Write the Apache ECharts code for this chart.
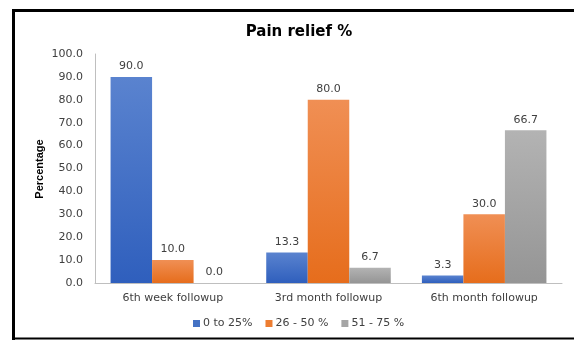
<!DOCTYPE html>
<html>
<head>
<meta charset="utf-8">
<script src="https://cdn.jsdelivr.net/npm/echarts@6/dist/echarts.min.js"></script>
<style>
  html, body { margin: 0; padding: 0; background: #fff; }
  #chart { width: 574px; height: 340px; }
</style>
</head>
<body>
<div id="chart"></div>
<script>
// Follow-up time points and the share of patients in each pain-relief band
const categories = ['6th week followup', '3rd month followup', '6th month followup'];
const seriesNames = ['0 to 25%', '26 - 50 %', '51 - 75 %'];
const band0to25 = [90.0, 13.3, 3.3];
const band26to50 = [10.0, 80.0, 30.0];
const band51to75 = [0.0, 6.7, 66.7];
const yTicks = [0, 10, 20, 30, 40, 50, 60, 70, 80, 90, 100];
const yAxisTitle = 'Percentage';

const FONT = "'DejaVu Sans', Verdana, sans-serif";
const TEXT = '#404040';

function grad(top, bottom) {
  return new echarts.graphic.LinearGradient(0, 0, 0, 1, [
    { offset: 0, color: top },
    { offset: 1, color: bottom }
  ]);
}

const palettes = [
  { solid: '#4472C4', fill: grad('#5a83cf', '#2f5fbd') },
  { solid: '#ED7D31', fill: grad('#f08f54', '#e66d1c') },
  { solid: '#A5A5A5', fill: grad('#b3b3b3', '#959595') }
];

const chart = echarts.init(document.getElementById('chart'), null, { renderer: 'canvas' });

const seriesData = [band0to25, band26to50, band51to75];

chart.setOption({
  animation: false,
  backgroundColor: '#ffffff',
  title: {
    text: 'Pain relief %',
    left: 294,
    textAlign: 'center',
    top: 20,
    textStyle: { fontFamily: FONT, fontWeight: 'bold', fontSize: 15, color: '#000' }
  },
  legend: {
    data: seriesNames.map((n, i) => ({ name: n, itemStyle: { color: palettes[i].solid } })),
    bottom: 6,
    left: 188,
    icon: 'rect',
    itemWidth: 7,
    itemHeight: 7,
    itemGap: 13,
    textStyle: { fontFamily: FONT, fontSize: 11, color: TEXT, padding: [0, 0, 0, -2] }
  },
  grid: { left: 95, right: 12, top: 54, bottom: 57, containLabel: false },
  xAxis: {
    type: 'category',
    data: categories,
    axisLine: { lineStyle: { color: '#bfbfbf', width: 1 } },
    axisTick: { show: false },
    axisLabel: { fontFamily: FONT, fontSize: 11, color: TEXT, margin: 10 }
  },
  yAxis: {
    type: 'value',
    min: yTicks[0],
    max: yTicks[yTicks.length - 1],
    interval: 10,
    axisLine: { show: true, lineStyle: { color: '#bfbfbf', width: 1 } },
    axisTick: { show: false },
    splitLine: { show: false },
    axisLabel: {
      fontFamily: FONT, fontSize: 11, color: TEXT, margin: 12,
      formatter: v => v.toFixed(1)
    }
  },
  series: seriesNames.map((name, i) => ({
    name,
    type: 'bar',
    data: seriesData[i],
    barGap: '0%',
    barCategoryGap: '20%',
    itemStyle: { color: palettes[i].fill },
    label: {
      show: true,
      position: 'top',
      distance: 5,
      fontFamily: FONT,
      fontSize: 11,
      color: TEXT,
      formatter: p => p.value.toFixed(1)
    }
  })),
  graphic: [
    // vertical axis title, set just left of the tick labels
    {
      type: 'text',
      x: 40, y: 169, rotation: Math.PI / 2,
      style: {
        text: yAxisTitle,
        font: "bold 11px 'Liberation Sans Narrow', 'Liberation Sans', sans-serif",
        fill: '#000', align: 'center', verticalAlign: 'middle'
      }
    },
    // frame around the chart
    { type: 'line', shape: { x1: 12, y1: 10.5, x2: 574, y2: 10.5 }, style: { stroke: '#000', lineWidth: 3 } },
    { type: 'line', shape: { x1: 13.5, y1: 9, x2: 13.5, y2: 340 }, style: { stroke: '#000', lineWidth: 3 } },
    { type: 'line', shape: { x1: 12, y1: 338.5, x2: 574, y2: 338.5 }, style: { stroke: '#000', lineWidth: 2 } }
  ]
});
</script>
</body>
</html>
